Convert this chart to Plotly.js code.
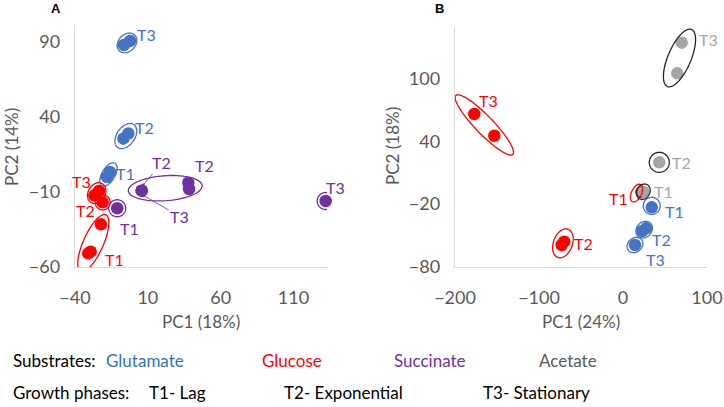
<!DOCTYPE html>
<html>
<head>
<meta charset="utf-8">
<script src="https://cdn.plot.ly/plotly-3.0.1.min.js"></script>
<style>html,body{margin:0;padding:0;background:#fff;}#chart{width:724px;height:407px;}</style>
</head>
<body>
<div id="chart"></div>
<script>
// ---------- Panel A data (PC1 18%, PC2 14%) ----------
const aGlutamateX = [-6.4, -2.2, -6.8, -3.4, -18.0, -16.0];
const aGlutamateY = [87.7, 90.4, 25.4, 28.8, -0.1, 3.2];
const aGlutamatePhase = ['T3', 'T3', 'T2', 'T2', 'T1', 'T1'];
const aGlucoseX = [-26.7, -23.5, -21.0, -22.2, -30.9, -29.2];
const aGlucoseY = [-12.3, -9.4, -17.0, -31.6, -50.9, -49.8];
const aGlucosePhase = ['T3', 'T3', 'T2', 'T1', 'T1', 'T1'];
const aSuccinateX = [-11.0, 5.8, 5.8, 37.8, 38.3, 132.1];
const aSuccinateY = [-20.9, -9.2, -9.2, -3.9, -8.1, -16.1];
const aSuccinatePhase = ['T1', 'T2', 'T3', 'T2', 'T2', 'T3'];

// ---------- Panel B data (PC1 24%, PC2 18%) ----------
const bGlutamateX = [34.2, 23.0, 27.4, 14.3];
const bGlutamateY = [-23.1, -45.8, -43.2, -59.2];
const bGlutamatePhase = ['T1', 'T2', 'T2', 'T3'];
const bGlucoseX = [22.0, -73.0, -70.0, -177.0, -153.2];
const bGlucoseY = [-8.5, -59.2, -56.0, 66.3, 45.5];
const bGlucosePhase = ['T1', 'T2', 'T2', 'T3', 'T3'];
const bAcetateX = [24.2, 43.2, 69.9, 64.6];
const bAcetateY = [-8.1, 20.0, 134.7, 105.3];
const bAcetatePhase = ['T1', 'T2', 'T3', 'T3'];

// ---------- Axis ticks ----------
const aXTicks = [-40, 10, 60, 110];
const aYTicks = [-60, -10, 40, 90];
const bXTicks = [-200, -100, 0, 100];
const bYTicks = [-80, -20, 40, 100];

// ---------- Point labels (data coords) ----------
const aLabelText   = ['T3', 'T2', 'T1', 'T3', 'T2', 'T1', 'T1', 'T2', 'T3'];
const aLabelSeries = ['Glutamate', 'Glutamate', 'Glutamate', 'Glucose', 'Glucose', 'Glucose', 'Succinate', 'Succinate', 'Succinate'];
const aLabelX      = [9.4, 7.4, -5.0, -35.2, -33.1, -13.2, -2.9, 48.6, 138.5];
const aLabelY      = [95.0, 32.5, 2.5, -3.4, -22.7, -55.3, -34.1, 7.2, -6.8];
// arrow labels pointing at the shared Succinate T2/T3 point
const aArrowText = ['T2', 'T3'];
const aArrowIdx  = [1, 2];
const aArrowDX   = [20, 38];
const aArrowDY   = [-24, 22];

const bLabelText   = ['T3', 'T3', 'T2', 'T1', 'T1', 'T1', 'T2', 'T3', 'T2'];
const bLabelSeries = ['Acetate', 'Glucose', 'Acetate', 'Acetate', 'Glucose', 'Glutamate', 'Glutamate', 'Glutamate', 'Glucose'];
const bLabelX      = [101.5, -160.4, 69.9, 48.0, -5.6, 61.9, 46.1, 38.1, -47.3];
const bLabelY      = [137.3, 79.7, 20.0, -8.1, -14.4, -27.3, -53.7, -72.9, -57.6];

// ---------- Styling ----------
const markerColor = {Glutamate: '#4472C4', Glucose: '#FF0000', Succinate: '#7030A0', Acetate: '#A5A5A5'};
const labelColor  = {Glutamate: '#4472C4', Glucose: '#FF0000', Succinate: '#7030A0', Acetate: '#A6A6A6'};
const ringColor   = {Glutamate: '#4472C4', Glucose: '#FF0000', Succinate: '#7030A0', Acetate: '#262626'};
const FONT = 'Lato, "Open Sans", sans-serif';
const W = 724, H = 407;

const dom = {
  x:  [75 / W, 327 / W],
  y:  [1 - 267 / H, 1 - 25 / H],
  x2: [455 / W, 707 / W],
  y2: [1 - 266.7 / H, 1 - 26.7 / H]
};
const rng = {x: [-40, 133], y: [-60, 101], x2: [-200, 100], y2: [-80, 150]};

const series = {
  A: {
    Glutamate: {x: aGlutamateX, y: aGlutamateY, p: aGlutamatePhase},
    Glucose:   {x: aGlucoseX,   y: aGlucoseY,   p: aGlucosePhase},
    Succinate: {x: aSuccinateX, y: aSuccinateY, p: aSuccinatePhase}
  },
  B: {
    Glutamate: {x: bGlutamateX, y: bGlutamateY, p: bGlutamatePhase},
    Glucose:   {x: bGlucoseX,   y: bGlucoseY,   p: bGlucosePhase},
    Acetate:   {x: bAcetateX,   y: bAcetateY,   p: bAcetatePhase}
  }
};

// ellipses: cluster of point indices, size (px), rotation (deg), optional px offset
const ellipses = [
  {panel: 'A', s: 'Glutamate', idx: [0, 1], rx: 11, ry: 8.5, ang: -45},
  {panel: 'A', s: 'Glutamate', idx: [2, 3], rx: 14, ry: 9, ang: -55},
  {panel: 'A', s: 'Glutamate', idx: [4, 5], rx: 13, ry: 6.5, ang: -60},
  {panel: 'A', s: 'Glucose', idx: [0, 1], rx: 11, ry: 8.5, ang: -60},
  {panel: 'A', s: 'Glucose', idx: [2], rx: 7.5, ry: 7.5, ang: 0},
  {panel: 'A', s: 'Glucose', idx: [3, 4, 5], rx: 31, ry: 10, ang: -66},
  {panel: 'A', s: 'Succinate', idx: [0], rx: 8.5, ry: 8.5, ang: 0},
  {panel: 'A', s: 'Succinate', idx: [1, 2, 3, 4], rx: 37, ry: 12.5, ang: -4},
  {panel: 'A', s: 'Succinate', idx: [5], rx: 8.5, ry: 8.5, ang: 0},
  {panel: 'B', s: 'Glutamate', idx: [0], rx: 8.5, ry: 8.5, ang: 0, dx: 0, dy: -1.5},
  {panel: 'B', s: 'Glutamate', idx: [1, 2], rx: 9, ry: 7.5, ang: -45},
  {panel: 'B', s: 'Glutamate', idx: [3], rx: 8.5, ry: 7, ang: -40},
  {panel: 'B', s: 'Glucose', idx: [0], rx: 9.5, ry: 5, ang: -65, dx: -5, dy: 1},
  {panel: 'B', s: 'Glucose', idx: [1, 2], rx: 15, ry: 9.5, ang: -70},
  {panel: 'B', s: 'Glucose', idx: [3, 4], rx: 41, ry: 9, ang: 46},
  {panel: 'B', s: 'Acetate', idx: [0], rx: 8, ry: 6.5, ang: -60},
  {panel: 'B', s: 'Acetate', idx: [1], rx: 10, ry: 10, ang: 0},
  {panel: 'B', s: 'Acetate', idx: [2, 3], rx: 31, ry: 11.5, ang: -67}
];

const axisOf = {A: {x: 'x', y: 'y'}, B: {x: 'x2', y: 'y2'}};
function scale(ax, isX) {
  const d = dom[ax], r = rng[ax];
  return ((d[1] - d[0]) * (isX ? W : H)) / (r[1] - r[0]);
}
function toPaper(ax, v) {
  const d = dom[ax], r = rng[ax];
  return d[0] + (v - r[0]) / (r[1] - r[0]) * (d[1] - d[0]);
}

const traces = [];
['A', 'B'].forEach(panel => {
  const order = panel === 'A' ? ['Glucose', 'Glutamate', 'Succinate'] : ['Glucose', 'Glutamate', 'Acetate'];
  order.forEach(name => {
    const s = series[panel][name];
    traces.push({
      type: 'scatter', mode: 'markers', name: name,
      x: s.x, y: s.y, text: s.p,
      xaxis: axisOf[panel].x, yaxis: axisOf[panel].y,
      cliponaxis: false, showlegend: false,
      marker: {size: 12.5, color: markerColor[name], line: {width: 0}},
      hovertemplate: name + ' %{text}<extra></extra>'
    });
  });
});

const shapes = ellipses.map(e => {
  const s = series[e.panel][e.s];
  const ax = axisOf[e.panel].x, ay = axisOf[e.panel].y;
  const sx = scale(ax, true), sy = scale(ay, false);
  let cx = 0, cy = 0;
  e.idx.forEach(i => { cx += s.x[i]; cy += s.y[i]; });
  cx /= e.idx.length; cy /= e.idx.length;
  cx += (e.dx || 0) / sx; cy -= (e.dy || 0) / sy;
  const a = e.ang * Math.PI / 180;
  let path = '';
  for (let k = 0; k <= 72; k++) {
    const t = k / 72 * 2 * Math.PI;
    const dxp = e.rx * Math.cos(t) * Math.cos(a) - e.ry * Math.sin(t) * Math.sin(a);
    const dyp = e.rx * Math.cos(t) * Math.sin(a) + e.ry * Math.sin(t) * Math.cos(a);
    const px = cx + dxp / sx, py = cy - dyp / sy;
    path += (k === 0 ? 'M' : 'L') + px.toFixed(4) + ',' + py.toFixed(4);
  }
  path += 'Z';
  return {type: 'path', path: path, xref: ax, yref: ay, layer: 'above',
          line: {color: ringColor[e.s], width: 1.3}, fillcolor: 'rgba(0,0,0,0)'};
});

const annotations = [];
function lab(text, x, y, xa, ya, color) {
  annotations.push({text: text, x: toPaper(xa, x), y: toPaper(ya, y), xref: 'paper', yref: 'paper', showarrow: false,
    font: {family: FONT, size: 16, color: color}, xanchor: 'center', yanchor: 'middle'});
}
aLabelText.forEach((t, i) => lab(t, aLabelX[i], aLabelY[i], 'x', 'y', labelColor[aLabelSeries[i]]));
bLabelText.forEach((t, i) => lab(t, bLabelX[i], bLabelY[i], 'x2', 'y2', labelColor[bLabelSeries[i]]));
aArrowText.forEach((t, i) => {
  annotations.push({text: t, x: aSuccinateX[aArrowIdx[i]], y: aSuccinateY[aArrowIdx[i]] + (i === 0 ? 2.5 : -2.5),
    xref: 'x', yref: 'y', showarrow: true, ax: aArrowDX[i], ay: aArrowDY[i],
    arrowhead: 2, arrowsize: 0.9, arrowwidth: 0.8, arrowcolor: '#7030A0', standoff: 0,
    font: {family: FONT, size: 16, color: '#7030A0'}});
});

function paperText(text, px, py, color, opts) {
  annotations.push(Object.assign({text: text, x: px / W, y: 1 - py / H, xref: 'paper', yref: 'paper',
    showarrow: false, xanchor: 'left', yanchor: 'middle',
    font: {family: FONT, size: 17, color: color}}, opts || {}));
}
// axis titles
paperText('PC1 (18%)', 201, 321, '#595959', {xanchor: 'center'});
paperText('PC1 (24%)', 581, 321, '#595959', {xanchor: 'center'});
paperText('PC2 (14%)', 11, 147, '#595959', {xanchor: 'center', textangle: -90});
paperText('PC2 (18%)', 392, 146, '#595959', {xanchor: 'center', textangle: -90});
// panel letters
paperText('<b>A</b>', 56, 8, '#000000', {xanchor: 'center', font: {family: 'Liberation Sans, Arial, sans-serif', size: 13, color: '#000'}});
paperText('<b>B</b>', 439, 8, '#000000', {xanchor: 'center', font: {family: 'Liberation Sans, Arial, sans-serif', size: 13, color: '#000'}});
// legend rows
paperText('Substrates:', 11, 360, '#000000');
paperText('Glutamate', 104, 360, '#2E75B6');
paperText('Glucose', 260, 360, '#FF0000');
paperText('Succinate', 392, 360, '#7030A0');
paperText('Acetate', 537, 360, '#595959');
paperText('Growth phases:', 11, 392, '#000000');
paperText('T1- Lag', 147, 392, '#000000');
paperText('T2- Exponential', 282, 392, '#000000');
paperText('T3- Stationary', 481, 392, '#000000');

function axis(ax, ticks, isX, anchor) {
  return {domain: dom[ax], range: rng[ax], anchor: anchor, tickmode: 'array', tickvals: ticks,
    showline: true, linecolor: '#D9D9D9', linewidth: 1.3, showgrid: false, zeroline: false,
    ticks: '', ticklabelstandoff: isX ? 14 : 10, fixedrange: true,
    tickfont: {family: FONT, size: 18, color: '#595959'}};
}

const layout = {
  width: W, height: H, margin: {l: 0, r: 0, t: 0, b: 0},
  paper_bgcolor: '#fff', plot_bgcolor: '#fff', showlegend: false,
  xaxis: axis('x', aXTicks, true, 'y'),
  yaxis: axis('y', aYTicks, false, 'x'),
  xaxis2: axis('x2', bXTicks, true, 'y2'),
  yaxis2: axis('y2', bYTicks, false, 'x2'),
  shapes: shapes, annotations: annotations
};

Plotly.newPlot('chart', traces, layout, {staticPlot: true, displayModeBar: false});
</script>
</body>
</html>
